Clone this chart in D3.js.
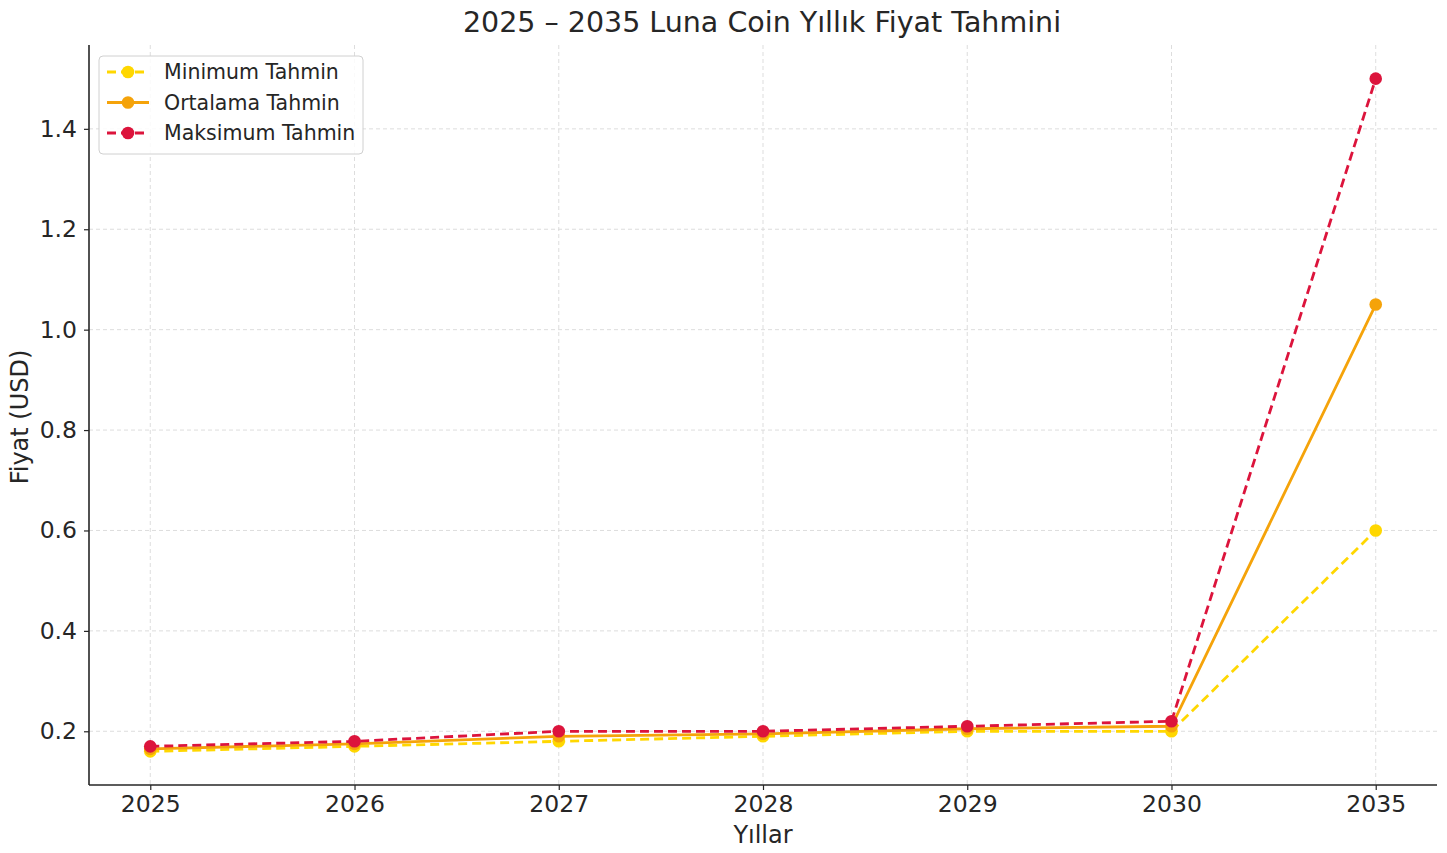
<!DOCTYPE html>
<html><head><meta charset="utf-8">
<script src="https://cdn.jsdelivr.net/npm/d3@7"></script>
<style>body{margin:0;background:#fff;} text{font-family:"DejaVu Sans",sans-serif;}</style>
</head><body><svg id="c" width="1447" height="853"></svg>
<script>
const years = ["2025","2026","2027","2028","2029","2030","2035"];
const minValues = [0.16,0.17,0.18,0.19,0.20,0.20,0.60];
const avgValues = [0.165,0.175,0.19,0.195,0.205,0.21,1.05];
const maxValues = [0.17,0.18,0.20,0.20,0.21,0.22,1.50];
const yTicks = [0.2,0.4,0.6,0.8,1.0,1.2,1.4];
const seriesNames = ["Minimum Tahmin","Ortalama Tahmin","Maksimum Tahmin"];

const svg = d3.select("#c");
const L=89, R=1437, T=45, B=785;
const x = d3.scalePoint().domain(years).range([L,R]).padding(0.3);
const y = d3.scaleLinear().domain([0.093,1.567]).range([B,T]);

// grid
svg.append("g").selectAll("line").data(yTicks).join("line")
  .attr("x1",L).attr("x2",R).attr("y1",d=>y(d)).attr("y2",d=>y(d))
  .attr("stroke","#d9d9d9").attr("stroke-width",0.9).attr("stroke-dasharray","4,3");
svg.append("g").selectAll("line").data(years).join("line")
  .attr("x1",d=>x(d)).attr("x2",d=>x(d)).attr("y1",T).attr("y2",B)
  .attr("stroke","#d9d9d9").attr("stroke-width",0.9).attr("stroke-dasharray","4,3");

// axes
const xa = svg.append("g").attr("transform",`translate(0,${B})`)
  .call(d3.axisBottom(x).tickSize(5).tickPadding(5));
const ya = svg.append("g").attr("transform",`translate(${L},0)`)
  .call(d3.axisLeft(y).tickValues(yTicks).tickFormat(d3.format(".1f")).tickSize(5).tickPadding(7));
[xa,ya].forEach(a=>{
  a.selectAll("text").attr("font-size",23.5).attr("fill","#262626").style("font-family","DejaVu Sans");
  a.selectAll("line").attr("stroke","#262626").attr("stroke-width",1.2);
  a.select(".domain").attr("stroke","#262626").attr("stroke-width",1.6);
});
xa.select(".domain").attr("d",`M${L},0H${R}`);
ya.select(".domain").attr("d",`M0,${B}V${T}`);

const series = [
  {name:seriesNames[0], vals:minValues, color:"#FFD700", dash:"9,5"},
  {name:seriesNames[1], vals:avgValues, color:"#F5A30A", dash:null},
  {name:seriesNames[2], vals:maxValues, color:"#DC143C", dash:"9,5"}
];
const line = d3.line().x((d,i)=>x(years[i])).y(d=>y(d));
series.forEach(s=>{
  svg.append("path").datum(s.vals).attr("d",line).attr("fill","none")
    .attr("stroke",s.color).attr("stroke-width",2.8).attr("stroke-dasharray",s.dash);
  svg.append("g").selectAll("circle").data(s.vals).join("circle")
    .attr("cx",(d,i)=>x(years[i])).attr("cy",d=>y(d)).attr("r",6.3).attr("fill",s.color);
});

// title & labels
svg.append("text").attr("x",762).attr("y",32).attr("text-anchor","middle")
  .attr("font-size",28.5).attr("fill","#262626").text("2025 – 2035 Luna Coin Yıllık Fiyat Tahmini");
svg.append("text").attr("x",(L+R)/2).attr("y",843).attr("text-anchor","middle")
  .attr("font-size",24).attr("fill","#262626").text("Yıllar");
svg.append("text").attr("transform",`translate(28,${(T+B)/2+2}) rotate(-90)`).attr("text-anchor","middle")
  .attr("font-size",24).attr("fill","#262626").text("Fiyat (USD)");

// legend
const lg = svg.append("g").attr("transform","translate(99,56)");
lg.append("rect").attr("width",264).attr("height",98).attr("rx",4)
  .attr("fill","#fff").attr("fill-opacity",0.85).attr("stroke","#d0d0d0");
series.forEach((s,i)=>{
  const cy=16+i*30.5;
  lg.append("line").attr("x1",8).attr("x2",50).attr("y1",cy).attr("y2",cy)
    .attr("stroke",s.color).attr("stroke-width",2.8).attr("stroke-dasharray",s.dash?"9,5":null);
  lg.append("circle").attr("cx",29).attr("cy",cy).attr("r",6.3).attr("fill",s.color);
  lg.append("text").attr("x",65).attr("y",cy+7).attr("font-size",20.5).attr("fill","#262626").text(s.name);
});
</script></body></html>
